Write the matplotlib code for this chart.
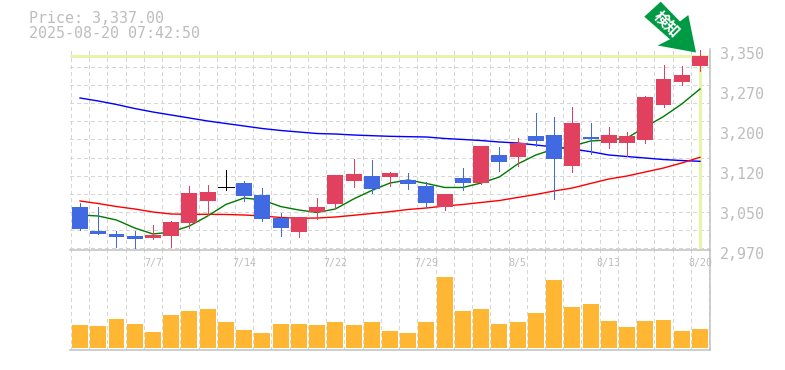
import matplotlib
matplotlib.use("Agg")
import matplotlib.pyplot as plt
import numpy as np
from matplotlib.patches import Polygon
from matplotlib.transforms import Affine2D

# ---- data -------------------------------------------------------------
opens = [3050,3005,2999,2995,2991,2995,3020,3062,3088,3096,3073,3029,3003,3041,3056,3100,3109,3107,3101,3090,
         3050,3105,3096,3149,3145,3185,3187,3128,3183,3172,3172,3177,3244,3288,3318]
highs = [3058,3050,3005,3005,3016,3024,3090,3092,3120,3100,3086,3039,3031,3067,3111,3141,3139,3117,3115,3098,
         3075,3124,3166,3164,3181,3229,3221,3240,3210,3202,3193,3261,3320,3318,3348]
lows = [3006,2999,2974,2972,2989,2974,3010,3035,3082,3062,3024,2995,2993,3027,3048,3088,3077,3090,3084,3050,
        3044,3082,3094,3118,3128,3166,3065,3117,3151,3162,3147,3172,3240,3282,3309]
closes = [3008,2999,2993,2989,2997,3022,3077,3079,3088,3071,3027,3010,3031,3050,3111,3113,3084,3115,3094,3058,
          3075,3096,3166,3136,3172,3175,3141,3210,3179,3187,3185,3259,3293,3301,3337]
ma_long = [3257.2,3251.5,3244.9,3237.2,3230.6,3224.9,3219.2,3213.5,3208.7,3204,3199.2,3195.5,3192.6,3189.7,3188.8,
           3186.9,3185.6,3184.4,3183.7,3183.1,3180.3,3178.4,3176.4,3173.6,3171.7,3167.9,3164.1,3160.3,3155.2,3148.9,
           3146,3143.2,3140.3,3138.4,3136.9]
ma_mid = [3061.5,3056.7,3051,3046.3,3040.6,3036.8,3036.2,3036.2,3035.9,3034.9,3033,3030.2,3028.6,3029.2,3031.1,
          3034.3,3037.8,3041.2,3045.4,3048.2,3052,3054.9,3058.7,3062.4,3068.2,3073.9,3080.5,3086.2,3094.8,3103.3,
          3109,3116.6,3124.2,3133.7,3144.5]
ma_short = [3034.9,3033,3025.4,3010.2,2998.8,3002.6,3014,3033,3054.9,3067.2,3063.4,3051,3044.4,3039.7,3046.3,
            3065.3,3081.5,3095.7,3101.4,3094.8,3087.2,3087.2,3095.7,3107.1,3131.8,3148.9,3160.3,3166,3175.5,3177.4,
            3181.2,3202.1,3222,3245.8,3274.3]
volumes = [23.3,22.3,29.3,24.3,16.3,33.3,37.3,39.3,26.3,18.3,15.3,24.3,24.3,23.3,26.3,23.3,26.3,17.3,15.3,26.3,
           71.3,37.3,39.3,24.3,26.3,35.3,68.3,41.3,44.3,27.3,21.3,27.3,28.3,17.3,19.3]
date_idx = [4,9,14,19,24,29,34]
date_labels = ["7/7","7/14","7/22","7/29","8/5","8/13","8/20"]
price_ticks = [2970,3046,3122,3198,3274,3350]
price_labels = ["2,970","3,050","3,120","3,200","3,270","3,350"]
last_price = 3337.00
title_lines = "Price: 3,337.00\n2025-08-20 07:42:50"

# ---- style --------------------------------------------------------------
W, H = 785, 370
RED, BLUE, BLACK = "#E2405F", "#4169E1", "#000000"
GRID, AXIS, TXT = "#D6D6D6", "#C0C0C0", "#BDBDBD"
HL = "#E6F5AB"
ORANGE = "#FFB733"
ARROW = "#009944"
PX = 72 / 100
plt.rcParams["font.family"] = ["DejaVu Sans Mono"]

fig = plt.figure(figsize=(W/100, H/100), dpi=100, facecolor="white")

def axes_px(x0, y0, x1, y1):
    return fig.add_axes([x0/W, 1-y1/H, (x1-x0)/W, (y1-y0)/H])

ax = axes_px(70, 49, 710, 250)
vax = axes_px(70, 250, 710, 350)
ax.set_zorder(3); ax.patch.set_alpha(0)
vax.set_zorder(2); vax.patch.set_alpha(0)

x = np.arange(len(closes))
XLIM = (-0.55, 34.55)
YLIM = (2968.4, 3350.3)

# grids
edges = np.arange(0, 36) - 0.5
hgrid = YLIM[0] + 3.3 + 34.47*np.arange(0, 11)
dash = (0, (3, 3))
for a in (ax, vax):
    a.set_xlim(*XLIM)
    a.vlines(edges, 0, 1, transform=a.get_xaxis_transform(), color=GRID, lw=1.0*PX,
             linestyles=dash, zorder=1, antialiased=False)
ax.hlines(hgrid, 0, 1, transform=ax.get_yaxis_transform(), color=GRID, lw=1.0*PX,
          linestyles=dash, zorder=1, antialiased=False)

# highlight of the last price
ax.plot(XLIM, [last_price, last_price], color=HL, lw=3*PX, zorder=2, solid_capstyle="butt")
ax.plot([x[-1], x[-1]], [YLIM[0], last_price], color=HL, lw=3.2*PX, zorder=2, solid_capstyle="butt")

# moving averages
for s, c in ((ma_long, "#0000FF"), (ma_mid, "#FF0000"), (ma_short, "#007A00")):
    ax.plot(x, s, color=c, lw=1.4*PX, zorder=3)

# candles
for i, (o, h, l, c) in enumerate(zip(opens, highs, lows, closes)):
    col = RED if c > o else BLUE if c < o else BLACK
    ax.vlines(i, l, h, color=col, lw=1.0*PX, zorder=4, antialiased=False)
    if c == o:
        ax.hlines(c, i-0.44, i+0.44, color=col, lw=1.0*PX, zorder=4, antialiased=False)
    else:
        ax.bar(i, abs(c-o), bottom=min(o, c), width=0.875, color=col, linewidth=0, zorder=5)
ax.set_ylim(*YLIM)

# volume
vax.bar(x, volumes, width=0.875, color=ORANGE, linewidth=0, zorder=3)
vax.set_ylim(-1.7, 98.3)
vax.set_yticks([]); vax.set_xticks([])

# axes cosmetics
for a in (ax, vax):
    for sp in ("left", "top"):
        a.spines[sp].set_visible(False)
    for sp in ("right", "bottom"):
        a.spines[sp].set_color(AXIS)
        a.spines[sp].set_linewidth(1.5*PX)

ax.yaxis.tick_right()
ax.set_yticks(price_ticks)
ax.set_yticklabels(price_labels, fontsize=15*PX, color=TXT)
ax.tick_params(axis="y", length=0, pad=7)
for t in ax.get_yticklabels():
    t.set_transform(t.get_transform() + Affine2D().translate(0, -3.5))
ax.set_xticks(date_idx)
ax.set_xticklabels(date_labels, fontsize=10*PX, color=TXT)
ax.tick_params(axis="x", length=0, pad=6)

# title
fig.text(29/W, 1-11/H, title_lines, ha="left", va="top", fontsize=15*PX, color=TXT, linespacing=0.98)

# arrow badge
pts = [(660.7,1.7),(680,21.5),(688.3,15),(696,52.5),(657.7,45.5),(670,39.3),(644.3,16.7)]
fig.add_artist(Polygon([(px/W, 1-py/H) for px, py in pts], closed=True, transform=fig.transFigure,
                       facecolor=ARROW, edgecolor="none", zorder=10))
fig.text(666.5/W, 1-24/H, "検知", rotation=-45, rotation_mode="anchor", ha="center", va="center",
         fontsize=15*PX, color="white", family=["Noto Sans CJK JP", "DejaVu Sans"], weight="bold", zorder=11)

fig.savefig("out.png", dpi=100)
